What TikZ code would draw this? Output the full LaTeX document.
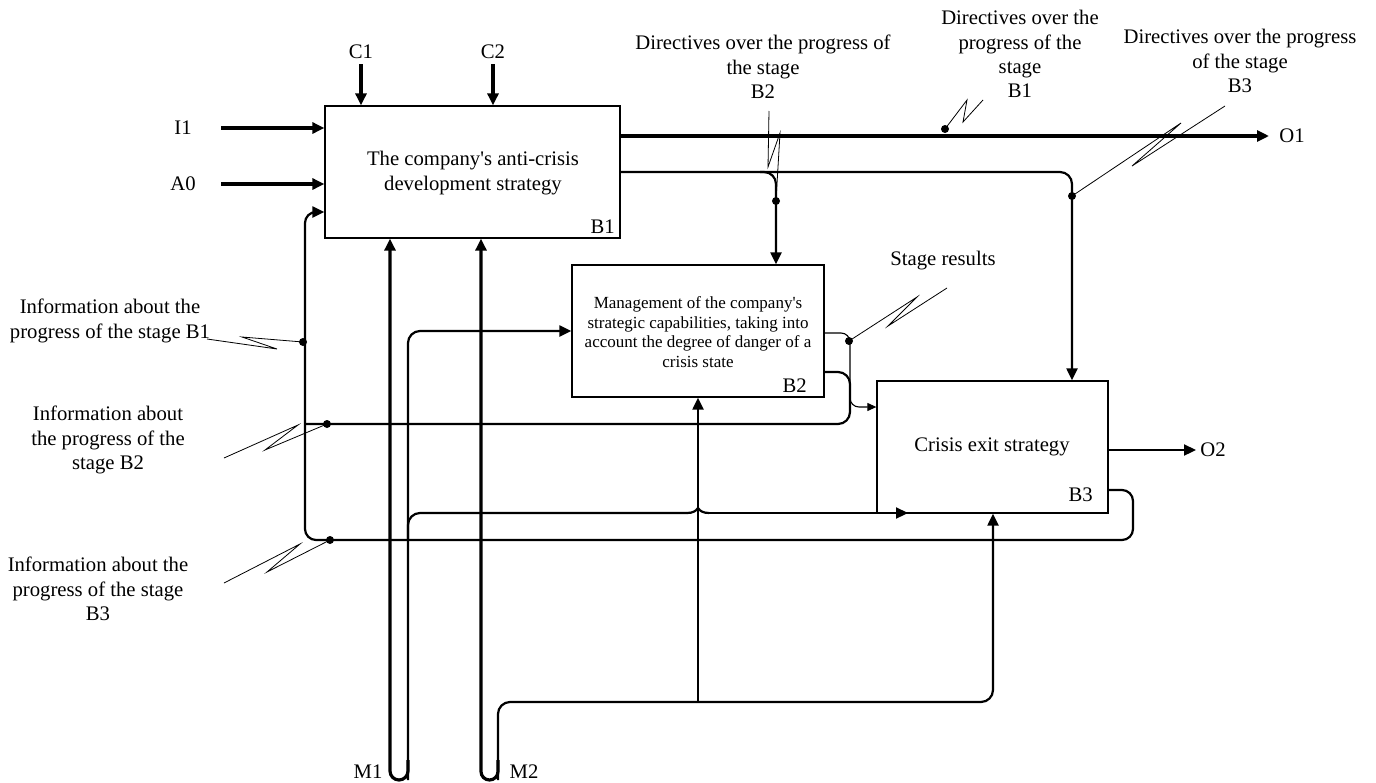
\documentclass[tikz,border=0pt]{standalone}
\usepackage{fontspec}
\setmainfont{Liberation Serif}
\usetikzlibrary{arrows.meta}
\begin{document}
\begin{tikzpicture}[x=1pt,y=-1pt,
  box/.style={draw, line width=1.3pt, inner sep=0pt},
  lbl/.style={font=\fontsize{20.7}{24.3}\selectfont, align=center, inner sep=0pt},
  small/.style={font=\fontsize{17}{19.8}\selectfont, align=center, inner sep=0pt},
  thk/.style={line width=3.2pt},
  med/.style={line width=2.2pt},
  thn/.style={line width=1.1pt},
  lead/.style={line width=0.8pt},
  tip/.style={-{Triangle[length=12pt,width=11pt]}},
  stip/.style={-{Triangle[length=9pt,width=8pt]}},
  jdot/.style={circle, fill, inner sep=0pt, minimum size=8pt},
]
\useasboundingbox (0,0) rectangle (1376,782);

% boxes
\node[box, minimum width=295pt, minimum height=132pt] (b1) at (472.5,172) {};
\node[box, minimum width=252pt, minimum height=132pt] (b2) at (698,331) {};
\node[box, minimum width=231pt, minimum height=132pt] (b3) at (992.5,447) {};

\node[lbl] (t1) at (473,173) {The company\textquotesingle s anti-crisis\\development strategy};
\node[small] (t2) at (698,332) {Management of the company\textquotesingle s\\strategic capabilities, taking into\\account the degree of danger of a\\crisis state};
\node[lbl] (t3) at (992,447) {Crisis exit strategy};
\node[lbl, anchor=base east] (n1) at (615,233) {B1};
\node[lbl, anchor=base east] (n2) at (807,392) {B2};
\node[lbl, anchor=base east] (n3) at (1093,501) {B3};

% labels
\node[lbl] (c1) at (361,52) {C1};
\node[lbl] (c2) at (493,52) {C2};
\node[lbl] (i1) at (183,128) {I1};
\node[lbl] (a0) at (183,184) {A0};
\node[lbl] (o1) at (1292,136) {O1};
\node[lbl] (o2) at (1213,450) {O2};
\node[lbl] (m1) at (368,772) {M1};
\node[lbl] (m2) at (524,772) {M2};
\node[lbl] (lb1) at (110,321) {Information about the\\progress of the stage B1};
\node[lbl] (lb2) at (108,440) {Information about\\the progress of the\\stage B2};
\node[lbl] (lb3) at (98,589) {Information about the\\progress of the stage\\B3};
\node[lbl] (db2) at (763,67) {Directives over the progress of\\the stage\\B2};
\node[lbl] (db1) at (1020,54) {Directives over the\\progress of the\\stage\\B1};
\node[lbl] (db3) at (1240,61) {Directives over the progress\\of the stage\\B3};
\node[lbl] (sres) at (943,261) {Stage results};

% controls and inputs
\coordinate (c1s) at (361,64);
\coordinate (c2s) at (493,64);
\draw[thk,tip] (c1s) -- (c1s |- b1.north);
\draw[thk,tip] (c2s) -- (c2s |- b1.north);
\coordinate (i1s) at (221,128);
\coordinate (a0s) at (221,184);
\draw[thk,tip] (i1s) -- (i1s -| b1.west);
\draw[thk,tip] (a0s) -- (a0s -| b1.west);

% outputs of B1
\coordinate (o1e) at (1269,136);
\draw[thk,tip] (o1e -| b1.east) -- (o1e);
\coordinate (r1) at (1072,172);
\draw[med,tip,rounded corners=12pt] (r1 -| b1.east) -- (r1) -- (r1 |- b3.north);
\coordinate (r2) at (776,172);
\coordinate (r2a) at (760,172);
\draw[med,tip,rounded corners=12pt] (r2a) -- (r2) -- (r2 |- b2.north);

% output of B3
\coordinate (o2e) at (1196,450);
\draw[med,tip] (o2e -| b3.east) -- (o2e);

% stage results B2 -> B3
\coordinate (sr) at (850,333);
\coordinate (sr2) at (850,407);
\draw[thn,stip,rounded corners=9pt] (sr -| b2.east) -- (sr) -- (sr2) -- (sr2 -| b3.west);

% feedback B2 -> vertical
\coordinate (f2a) at (850,372);
\coordinate (f2b) at (850,424);
\coordinate (f2c) at (305,424);
\draw[med,rounded corners=12pt] (f2a -| b2.east) -- (f2a) -- (f2b) -- (f2c);

% feedback B3 -> B1
\coordinate (g1) at (1133,490);
\coordinate (g2) at (1133,540);
\coordinate (g3) at (305,540);
\coordinate (g4) at (305,212);
\draw[med,tip,rounded corners=11pt] (g1 -| b3.east) -- (g1) -- (g2) -- (g3) -- (g4) -- (g4 -| b1.west);

% M1
\coordinate (m1a) at (390,780);
\coordinate (m1b) at (408,780);
\coordinate (m1t) at (408,760);
\draw[thk,tip,rounded corners=9pt] (m1t) -- (m1b) -- (m1a) -- (m1a |- b1.south);
\coordinate (m1c) at (408,331);
\draw[med,tip,rounded corners=12pt] (m1b) -- (m1c) -- (m1c -| b2.west);
\coordinate (m1d) at (408,513);
\coordinate (m1s) at (408,540);
\coordinate (m1h) at (687,513);
\coordinate (m1k) at (709,513);
\coordinate (m1e) at (908,513);
\draw[med,rounded corners=12pt] (m1s) -- (m1d) -- (m1h);
\draw[med] (m1h) .. controls (693,513) and (696,511) .. (698,508)
   .. controls (700,511) and (703,513) .. (m1k);
\draw[med,tip] (m1k) -- (m1e);

% M2
\coordinate (m2a) at (481,780);
\coordinate (m2b) at (498,780);
\coordinate (m2t) at (498,760);
\draw[thk,tip,rounded corners=8.5pt] (m2t) -- (m2b) -- (m2a) -- (m2a |- b1.south);
\coordinate (m2c) at (498,702);
\coordinate (m2d) at (993,702);
\draw[med,tip,rounded corners=12pt] (m2b) -- (m2c) -- (m2d) -- (m2d |- b3.south);
\coordinate (m2e) at (698,702);
\draw[med,tip] (m2e) -- (m2e |- b2.south);

% junction dots
\node[jdot] (d1) at (776,201) {};
\node[jdot] (d2) at (1072,196) {};
\node[jdot] (d3) at (945,129) {};
\node[jdot] (d4) at (849,341) {};
\node[jdot] (d5) at (303,342) {};
\node[jdot] (d6) at (327,424) {};
\node[jdot] (d7) at (330,540) {};

% leader squiggles
\coordinate (q2) at (769,111);
\draw[lead] (q2) -- (768,167) -- (780,133) -- (d1.center);
\draw[lead] (d3.center) -- (967,100) -- (963,122) -- (983,100);
\draw[lead] (d2.center) -- (1181,123) -- (1132,166) -- (1225,106);
\draw[lead] (d4.center) -- (917,297) -- (888,326) -- (947,288);
\draw[lead] (d5.center) -- (242,337) -- (277,349) -- (207,339);
\draw[lead] (d6.center) -- (265,450) -- (298,425) -- (224,458);
\draw[lead] (d7.center) -- (267,572) -- (300,544) -- (224,583);
\end{tikzpicture}
\end{document}
